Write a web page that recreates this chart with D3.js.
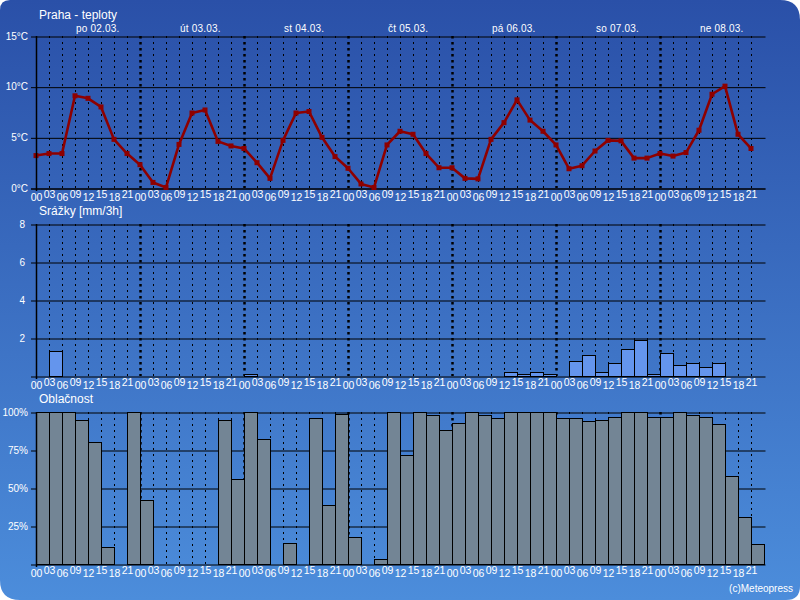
<!DOCTYPE html>
<html><head><meta charset="utf-8">
<script src="https://cdn.jsdelivr.net/npm/d3@7"></script>
<style>
html,body{margin:0;padding:0;background:#fff;}
svg{display:block;}
text{font-family:"Liberation Sans",Arial,sans-serif;fill:#fff;}
</style></head>
<body>
<script>
const hours = ["00","03","06","09","12","15","18","21"];
const days = ["po 02.03.","út 03.03.","st 04.03.","čt 05.03.","pá 06.03.","so 07.03.","ne 08.03."];
const temperature = [3.2,3.4,3.4,9.1,8.85,8.0,4.8,3.4,
  2.3,0.55,0.05,4.3,7.4,7.7,4.6,4.15,
  3.9,2.5,0.95,4.7,7.4,7.55,5.0,3.1,
  1.95,0.4,0.05,4.25,5.6,5.3,3.4,2.0,
  2.0,0.95,0.9,4.8,6.45,8.7,6.7,5.6,
  4.25,1.9,2.2,3.65,4.7,4.65,2.95,2.95,
  3.4,3.15,3.5,5.7,9.25,10.05,5.3,3.9];
const precipitation = [0,1.3,0,0,0,0,0,0,
  0,0,0,0,0,0,0,0,
  0.1,0,0,0,0,0,0,0,
  0,0,0,0,0,0,0,0,
  0,0,0,0,0.2,0.1,0.2,0.1,
  0,0.8,1.1,0.2,0.7,1.4,1.9,0.1,
  1.2,0.6,0.7,0.5,0.7,0,0,0];
const cloudiness = [100,100,100,95,80,11,0,100,
  42,0,0,0,0,0,95,56,
  100,82,0,14,0,96,39,99,
  18,0,3,100,72,100,98,88,
  93,100,98,96,100,100,100,100,
  96,96,94,95,97,100,100,97,
  97,100,98,97,92,58,31,13];
const tempTicks = [0,5,10,15];
const precipTicks = [2,4,6,8];
const cloudTicks = [25,50,75,100];
const titles = ["Praha - teploty","Srážky [mm/3h]","Oblačnost"];

const W = 800, H = 600;
const svg = d3.select("body").append("svg").attr("width",W).attr("height",H);
const defs = svg.append("defs");
const grad = defs.append("linearGradient").attr("id","bg").attr("x1",0).attr("y1",0).attr("x2",0).attr("y2",1);
grad.append("stop").attr("offset","0%").attr("stop-color","#2a50a8");
grad.append("stop").attr("offset","100%").attr("stop-color","#4c8ddb");

// background rounded panel
const rTL=10, rTR=20, rBR=14, rBL=20;
svg.append("path").attr("fill","url(#bg)")
  .attr("d",`M${rTL},0 H${W-rTR} Q${W},0 ${W},${rTR} V${H-rBR} Q${W},${H} ${W-rBR},${H} H${rBL} Q0,${H} 0,${H-rBL} V${rTL} Q0,0 ${rTL},0 Z`);

const N = 56;
const x0 = 36, x1 = 764, gridRight = 765;
const x = d3.scaleLinear().domain([0,N]).range([x0,x1]);

const panels = [
  {top:36,bottom:188,domain:[0,15],ticks:tempTicks,fmt:d=>d+"°C",pad:3},
  {top:224,bottom:376,domain:[0,8],ticks:precipTicks,fmt:d=>d,pad:6},
  {top:412,bottom:564,domain:[0,100],ticks:cloudTicks,fmt:d=>d+"%",pad:3}
];

panels.forEach((p,pi)=>{
  p.y = d3.scaleLinear().domain(p.domain).range([p.bottom,p.top]);
  const g = svg.append("g");
  // vertical dotted lines
  const vl = d3.range(1,N);
  g.selectAll("line.v").data(vl).join("line")
    .attr("x1",d=>Math.round(x(d))+0.5).attr("x2",d=>Math.round(x(d))+0.5)
    .attr("y1",p.top).attr("y2",p.bottom)
    .attr("stroke","#000")
    .attr("stroke-width",d=>d%8===0?2.5:1)
    .attr("stroke-dasharray",d=>d%8===0?"2.5,3.5":"2,4");
  // horizontal grid lines
  const gridAxis = d3.axisLeft(p.y).tickValues([p.domain[0]].concat(p.ticks))
    .tickSizeInner(-(gridRight-x0)).tickSizeOuter(0).tickFormat("");
  const gg = svg.append("g").attr("transform",`translate(${x0+0.5},0.5)`).call(gridAxis);
  gg.select(".domain").remove();
  gg.selectAll("line").attr("stroke","#000").attr("x1",-5.5).attr("stroke-width",1);
  p.grid = gg;
});

// temperature line
const pT = panels[0];
const line = d3.line().x((d,i)=>x(i)).y(d=>pT.y(d));
svg.append("path").datum(temperature).attr("d",line)
  .attr("fill","none").attr("stroke","#8e0000").attr("stroke-width",2.6).attr("stroke-linejoin","round");
svg.selectAll("rect.tm").data(temperature).join("rect")
  .attr("x",(d,i)=>x(i)-2.5).attr("y",d=>pT.y(d)-2.5).attr("width",5).attr("height",5)
  .attr("fill","#8e0000");

// precipitation bars
const pP = panels[1];
svg.selectAll("rect.pb").data(precipitation.map((v,i)=>({v,i})).filter(d=>d.v>0)).join("rect")
  .attr("x",d=>Math.round(x(d.i))+0.5).attr("width",d=>Math.round(x(d.i+1))-Math.round(x(d.i)))
  .attr("y",d=>Math.round(pP.y(d.v))+0.5).attr("height",d=>pP.bottom-Math.round(pP.y(d.v)))
  .attr("fill","#6495ed").attr("stroke","#000").attr("stroke-width",1);

// cloud bars
const pC = panels[2];
svg.selectAll("rect.cb").data(cloudiness.map((v,i)=>({v,i})).filter(d=>d.v>0)).join("rect")
  .attr("x",d=>Math.round(x(d.i))+0.5).attr("width",d=>Math.round(x(d.i+1))-Math.round(x(d.i)))
  .attr("y",d=>Math.round(pC.y(d.v))+0.5).attr("height",d=>pC.bottom-Math.round(pC.y(d.v)))
  .attr("fill","#738595").attr("stroke","#000").attr("stroke-width",1);

// axes: labels, y-axis line, bottom labels
panels.forEach((p,pi)=>{
  const ya = d3.axisLeft(p.y).tickValues(p.ticks).tickFormat(p.fmt).tickSize(0).tickPadding(p.pad+5);
  const yg = svg.append("g").attr("transform",`translate(${x0},0)`).call(ya);
  yg.select(".domain").remove();
  yg.selectAll("text").style("font-size","10px").attr("fill","#fff").style("font-family",'"Liberation Sans",Arial,sans-serif');
  svg.append("line").attr("x1",x0+0.5).attr("x2",x0+0.5).attr("y1",p.top).attr("y2",p.bottom+3)
    .attr("stroke","#000").attr("stroke-width",1.5);
  const xa = d3.axisBottom(x).tickValues(d3.range(N)).tickFormat(i=>hours[i%8]).tickSize(0);
  const xg = svg.append("g").attr("transform",`translate(0,${p.bottom})`).call(xa);
  xg.select(".domain").remove();
  xg.selectAll("text").style("font-size","10.5px").attr("fill","#fff")
    .style("font-family",'"Liberation Sans",Arial,sans-serif')
    .attr("dy",null).attr("y",(i)=> i%2===0 ? 12.5 : 9.5);
  svg.append("text").attr("x",39).attr("y",p.top-(pi===0?17:9))
    .style("font-size","12px").text(titles[pi]);
});

// day labels
svg.selectAll("text.day").data(days).join("text")
  .attr("class","day").attr("x",(d,i)=>x(i*8+3)+1).attr("y",32)
  .style("font-size","10px").style("letter-spacing","0.2px").text(d=>d);

// copyright
svg.append("text").attr("x",793).attr("y",592).attr("text-anchor","end")
  .style("font-size","10px").text("(c)Meteopress");
</script>
</body></html>
